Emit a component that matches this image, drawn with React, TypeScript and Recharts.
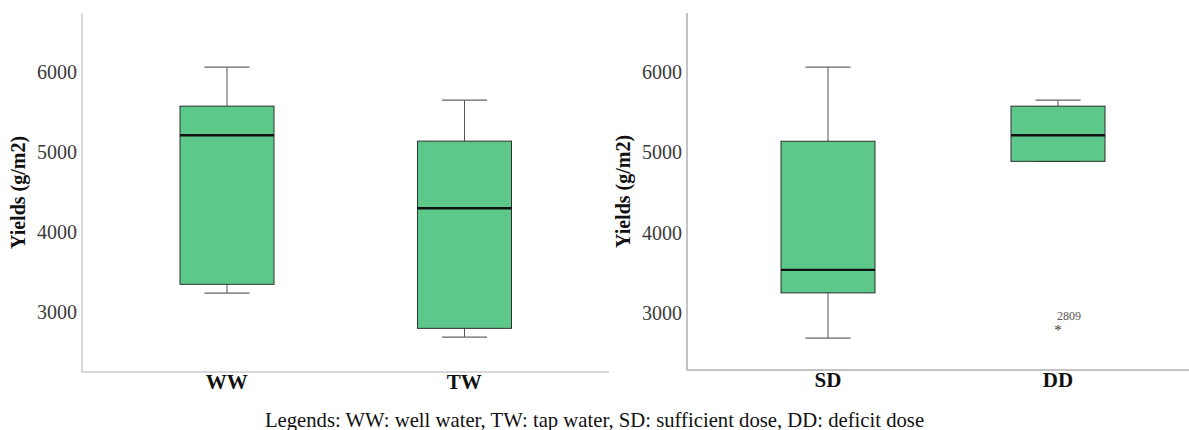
import React from "react"
import { ComposedChart, Bar, Line, XAxis, YAxis } from "recharts"

// box-plot stats (g/m2)
const LEFT_CATS = ["WW", "TW"]
const LEFT_MIN = [3240, 2690]
const LEFT_Q1 = [3350, 2800]
const LEFT_MED = [5212, 4300]
const LEFT_Q3 = [5575, 5138]
const LEFT_MAX = [6062, 5650]

const RIGHT_CATS = ["SD", "DD"]
const RIGHT_MIN = [2688, 4888]
const RIGHT_Q1 = [3250, 4888]
const RIGHT_MED = [3537, 5212]
const RIGHT_Q3 = [5138, 5575]
const RIGHT_MAX = [6062, 5650]
const RIGHT_OUTLIER: (number | null)[] = [null, 2809]

const Y_TICKS = [3000, 4000, 5000, 6000]
const LEGEND = "Legends: WW: well water, TW: tap water, SD: sufficient dose, DD: deficit dose"

const SERIF = '"Liberation Serif", "Times New Roman", serif'
const BOX_FILL = "#5cc98b"

type Row = {
  name: string
  min: number
  q1: number
  median: number
  q3: number
  max: number
  range: [number, number]
  outlier: number | null
}

function buildRows(
  cats: string[],
  mins: number[],
  q1s: number[],
  meds: number[],
  q3s: number[],
  maxs: number[],
  outs?: (number | null)[]
): Row[] {
  return cats.map((name, i) => ({
    name,
    min: mins[i],
    q1: q1s[i],
    median: meds[i],
    q3: q3s[i],
    max: maxs[i],
    range: [mins[i], maxs[i]],
    outlier: outs ? outs[i] : null,
  }))
}

const leftRows = buildRows(LEFT_CATS, LEFT_MIN, LEFT_Q1, LEFT_MED, LEFT_Q3, LEFT_MAX)
const rightRows = buildRows(RIGHT_CATS, RIGHT_MIN, RIGHT_Q1, RIGHT_MED, RIGHT_Q3, RIGHT_MAX, RIGHT_OUTLIER)

// the bar spans min..max, so every stat is placed on the same linear scale
function BoxShape(props: any) {
  const { x, y, width, height, payload } = props
  if (!payload) return null
  const top = Math.min(y, y + height)
  const h = Math.abs(height)
  const lo = payload.min
  const hi = payload.max
  const py = (v: number) => (hi === lo ? top : top + ((hi - v) / (hi - lo)) * h)
  const cx = x + width / 2
  const cap = width * 0.24
  const yQ1 = py(payload.q1)
  const yQ3 = py(payload.q3)
  const yMed = py(payload.median)
  return (
    <g>
      <line x1={cx} x2={cx} y1={py(hi)} y2={yQ3} stroke="#555" strokeWidth={1} />
      <line x1={cx} x2={cx} y1={yQ1} y2={py(lo)} stroke="#555" strokeWidth={1} />
      <line x1={cx - cap} x2={cx + cap} y1={py(hi)} y2={py(hi)} stroke="#666" strokeWidth={1.2} />
      <line x1={cx - cap} x2={cx + cap} y1={py(lo)} y2={py(lo)} stroke="#666" strokeWidth={1.2} />
      <rect x={x} y={yQ3} width={width} height={yQ1 - yQ3} fill={BOX_FILL} stroke="#2f2f2f" strokeWidth={1} />
      <line x1={x} x2={x + width} y1={yMed} y2={yMed} stroke="#111" strokeWidth={2.4} />
    </g>
  )
}

function OutlierDot(props: any) {
  const { cx, cy, payload, index } = props
  if (!payload || payload.outlier == null || cy == null) return <g key={`o-${index}`} />
  return (
    <g key={`o-${index}`}>
      <text x={cx} y={cy + 7} textAnchor="middle" fontSize={15} fontFamily={SERIF} style={{ fill: "#333", stroke: "none" }}>
        *
      </text>
      <text x={cx - 1} y={cy - 8} fontSize={12} fontFamily={SERIF} style={{ fill: "#555", stroke: "none" }}>
        {payload.outlier}
      </text>
    </g>
  )
}

function XTick(props: any) {
  const { x, y, payload } = props
  return (
    <text x={x} y={y} dy={17} textAnchor="middle" fontSize={21} fontWeight="bold" fill="#111" fontFamily={SERIF}>
      {payload.value}
    </text>
  )
}

function Panel({
  rows,
  width,
  yWidth,
  domain,
  bottom,
  axisColor,
  labelOffset,
  outliers,
}: {
  rows: Row[]
  width: number
  yWidth: number
  domain: [number, number]
  bottom: number
  axisColor: string
  labelOffset: number
  outliers?: boolean
}) {
  return (
    <ComposedChart width={width} height={430} data={rows} margin={{ top: 13, right: 11, left: 0, bottom }}>
      <XAxis
        dataKey="name"
        padding={{ left: 26, right: 26 }}
        tickLine={false}
        axisLine={{ stroke: axisColor }}
        height={30}
        tick={<XTick />}
        tickMargin={0}
        tickSize={0}
      />
      <YAxis
        type="number"
        domain={domain}
        ticks={Y_TICKS}
        allowDataOverflow
        width={yWidth}
        tickLine={false}
        tickSize={0}
        tickMargin={5}
        axisLine={{ stroke: axisColor }}
        tick={{ fill: "#3a3a3a", fontSize: 20, fontFamily: SERIF }}
        label={{
          value: "Yields (g/m2)",
          angle: -90,
          position: "insideLeft",
          offset: labelOffset,
          style: { textAnchor: "middle", fontSize: 20, fontWeight: "bold", fill: "#111", fontFamily: SERIF },
        }}
      />
      <Bar dataKey="range" barSize={94} shape={<BoxShape />} isAnimationActive={false} />
      {outliers && (
        <Line
          dataKey="outlier"
          stroke="none"
          fill="#555"
          dot={(p: any) => <OutlierDot {...p} />}
          activeDot={false}
          isAnimationActive={false}
          legendType="none"
        />
      )}
    </ComposedChart>
  )
}

export default function App() {
  return (
    <div
      style={{
        position: "absolute",
        left: 0,
        top: 0,
        width: 1189,
        height: 430,
        overflow: "hidden",
        background: "#fff",
      }}
    >
      <div style={{ position: "absolute", left: 0, top: 0 }}>
        <Panel
          rows={leftRows}
          width={620}
          yWidth={82}
          domain={[2255, 6738]}
          bottom={28}
          axisColor="#b0b0b0"
          labelOffset={18}
        />
      </div>
      <div style={{ position: "absolute", left: 600, top: 0 }}>
        <Panel
          rows={rightRows}
          width={610}
          yWidth={87}
          domain={[2290, 6735]}
          bottom={30}
          axisColor="#888"
          labelOffset={23}
          outliers
        />
      </div>
      <div
        style={{
          position: "absolute",
          left: 0,
          top: 409,
          width: 1189,
          textAlign: "center",
          fontFamily: SERIF,
          fontSize: 20.7,
          color: "#111",
          lineHeight: "22px",
        }}
      >
        {LEGEND}
      </div>
    </div>
  )
}
